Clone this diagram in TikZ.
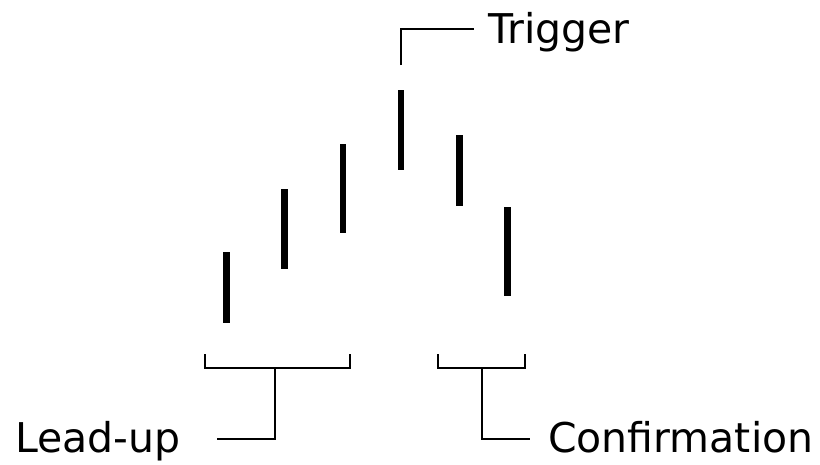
\documentclass[tikz,border=0pt]{standalone}
\usepackage{fontspec}
\setmainfont{DejaVu Sans}
\begin{document}
\begin{tikzpicture}[x=1pt,y=-1pt,
  bar/.style={fill=black,draw=none,inner sep=0pt,minimum width=6.5pt},
  lbl/.style={inner sep=0pt,anchor=base west,font=\fontsize{41}{49}\selectfont},
  link/.style={draw=black,line width=2pt,line cap=butt,line join=miter}]
\useasboundingbox (0,0) rectangle (820,464);
% bars
\node[bar,minimum height=71.3pt] (b1) at (226.3,287.3) {};
\node[bar,minimum height=80.3pt] (b2) at (284.7,228.8) {};
\node[bar,minimum height=89pt] (b3) at (343,188.8) {};
\node[bar,minimum height=80pt] (b4) at (401,130) {};
\node[bar,minimum height=71.3pt] (b5) at (459.3,170.6) {};
\node[bar,minimum height=89pt] (b6) at (507.7,251.2) {};
% labels
\node[lbl] (trig) at (488,43) {Trigger};
\node[lbl] (lead) at (15,452) {Lead-up};
\node[lbl] (conf) at (548,452.5) {Confirmation};
% trigger bracket
\coordinate (t0) at (401,65);
\coordinate (t1) at (474.3,29.3);
\draw[link] (t0) |- (t1);
% lead-up bracket
\coordinate (la) at (205.3,354);
\coordinate (lb) at (349.7,354);
\coordinate (lm) at (275.3,368);
\coordinate (le) at (217.3,439);
\draw[link] (la) -- (205.3,368) -- (349.7,368) -- (lb);
\draw[link] (lm) |- (le);
% confirmation bracket
\coordinate (ca) at (438.3,354);
\coordinate (cb) at (525.3,354);
\coordinate (cm) at (481.7,368);
\coordinate (ce) at (530,439);
\draw[link] (ca) -- (438.3,368) -- (525.3,368) -- (cb);
\draw[link] (cm) |- (ce);
\end{tikzpicture}
\end{document}
